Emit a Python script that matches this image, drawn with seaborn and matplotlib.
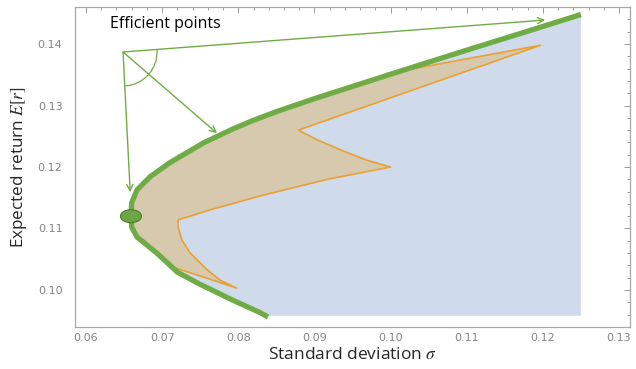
import matplotlib
matplotlib.use("Agg")
import numpy as np
import pandas as pd
import seaborn as sns
import matplotlib.pyplot as plt
from matplotlib.patches import Arc, Ellipse
from matplotlib.ticker import MultipleLocator, FormatStrFormatter

# ---------------- data ----------------
frontier_sigma = [0.0839, 0.0829, 0.0790, 0.0747, 0.0720, 0.0693, 0.0667, 0.0660,
                  0.0659, 0.0660, 0.0667, 0.0684, 0.0710, 0.0754, 0.0793, 0.0820,
                  0.0850, 0.0902, 0.0950, 0.1013, 0.1100, 0.1178, 0.1250]
frontier_mu = [0.0956, 0.0963, 0.0985, 0.1011, 0.1029, 0.1060, 0.1086, 0.1102,
               0.1120, 0.1142, 0.1163, 0.1184, 0.1207, 0.1239, 0.1262, 0.1276,
               0.1290, 0.1312, 0.1331, 0.1356, 0.1390, 0.1420, 0.1448]

# inner (orange) boundary of the tan region, from upper join to lower join
orange_sigma = [0.0995, 0.1197, 0.0879, 0.0904, 0.0938, 0.0969, 0.1000, 0.0917,
                0.0829, 0.0765, 0.0721, 0.0721, 0.0726, 0.0737, 0.0759, 0.0776,
                0.0798, 0.0717]
orange_mu = [0.1352, 0.1398, 0.1260, 0.1244, 0.1226, 0.1211, 0.1200, 0.1180,
             0.1153, 0.1131, 0.1114, 0.1102, 0.1081, 0.1060, 0.1033, 0.1016,
             0.1003, 0.1036]

region_sigma_max = 0.1250
region_mu_min = 0.0958

minvar_sigma = 0.0659
minvar_mu = 0.1120

label_text = "Efficient points"
arrow_origin = (0.06486, 0.1387)
arrow_targets_sigma = [0.1203, 0.0772, 0.0658]
arrow_targets_mu = [0.1439, 0.1255, 0.1159]

x_ticks = [0.06, 0.07, 0.08, 0.09, 0.10, 0.11, 0.12, 0.13]
y_ticks = [0.10, 0.11, 0.12, 0.13, 0.14]

# ---------------- styling ----------------
GREEN = "#6fac46"
ORANGE = "#e9a035"
TAN = "#d6c9ad"
BLUE = "#cfdbea"

sns.set_theme(style="white")
plt.rcParams["font.family"] = ["DejaVu Sans"]
plt.rcParams["mathtext.fontset"] = "stix"

fig = plt.figure(figsize=(6.36, 3.69), dpi=100)
ax = fig.add_axes([75 / 636, 1 - 327 / 369, 555 / 636, 320 / 369])

fs = np.array(frontier_sigma)
fm = np.array(frontier_mu)

# blue feasible region
ax.fill(np.r_[fs, region_sigma_max, fs[0]],
        np.r_[fm, region_mu_min, region_mu_min],
        color=BLUE, lw=0, zorder=1)

# tan region: orange inner boundary + frontier segment between joins
osg = np.array(orange_sigma)
omu = np.array(orange_mu)
mask = (fm > omu[-1]) & (fm < omu[0])
ax.fill(np.r_[osg, fs[mask]], np.r_[omu, fm[mask]], color=TAN, lw=0, zorder=2)

sns.lineplot(x=osg, y=omu, sort=False, estimator=None, color=ORANGE, lw=1.2,
             ax=ax, zorder=3)
sns.lineplot(x=fs, y=fm, sort=False, estimator=None, color=GREEN, lw=3.8,
             ax=ax, zorder=4, solid_capstyle="butt")

# minimum-variance point
ax.add_patch(Ellipse((minvar_sigma, minvar_mu), width=21 / 7610, height=13 / 6150,
                     facecolor="#6ea646", edgecolor="#4a7a2c", lw=0.8, zorder=5))

# arrows and angle arc
for tx, ty in zip(arrow_targets_sigma, arrow_targets_mu):
    ax.annotate("", xy=(tx, ty), xytext=arrow_origin,
                arrowprops=dict(arrowstyle="->", color=GREEN, lw=1.0,
                                mutation_scale=11, shrinkA=0, shrinkB=0),
                zorder=6)
ax.add_patch(Arc(arrow_origin, width=2 * 34 / 7610, height=2 * 34 / 6150,
                 theta1=-87, theta2=4.3, color=GREEN, lw=0.9, zorder=6))

ax.text(0.06315, 0.1432, label_text, fontsize=11.5, color="black",
        ha="left", va="center", family=["Open Sans", "DejaVu Sans"])

# axes
ax.set_xlim(0.05855, 0.13145)
ax.set_ylim(0.09398, 0.14602)
ax.set_xticks(x_ticks)
ax.set_yticks(y_ticks)
ax.xaxis.set_minor_locator(MultipleLocator(0.002))
ax.yaxis.set_minor_locator(MultipleLocator(0.002))
ax.xaxis.set_major_formatter(FormatStrFormatter("%.2f"))
ax.yaxis.set_major_formatter(FormatStrFormatter("%.2f"))
ax.tick_params(which="both", direction="in", top=True, right=True,
               color="#9a9a9a", width=0.7, labelcolor="#858585",
               labelsize=8)
ax.tick_params(which="major", length=4)
ax.tick_params(which="minor", length=2)
ax.tick_params(axis="y", pad=9)
ax.tick_params(axis="x", pad=4)
for sp in ax.spines.values():
    sp.set_color("#a8a8a8")
    sp.set_linewidth(0.9)

ax.set_xlabel(r"Standard deviation $\sigma$", fontsize=12.5,
              family=["Open Sans", "DejaVu Sans"], labelpad=3)
ax.set_ylabel(r"Expected return $E[r]$", fontsize=12.3,
              family=["Open Sans", "DejaVu Sans"], labelpad=6)

fig.savefig("out.png", dpi=100)
